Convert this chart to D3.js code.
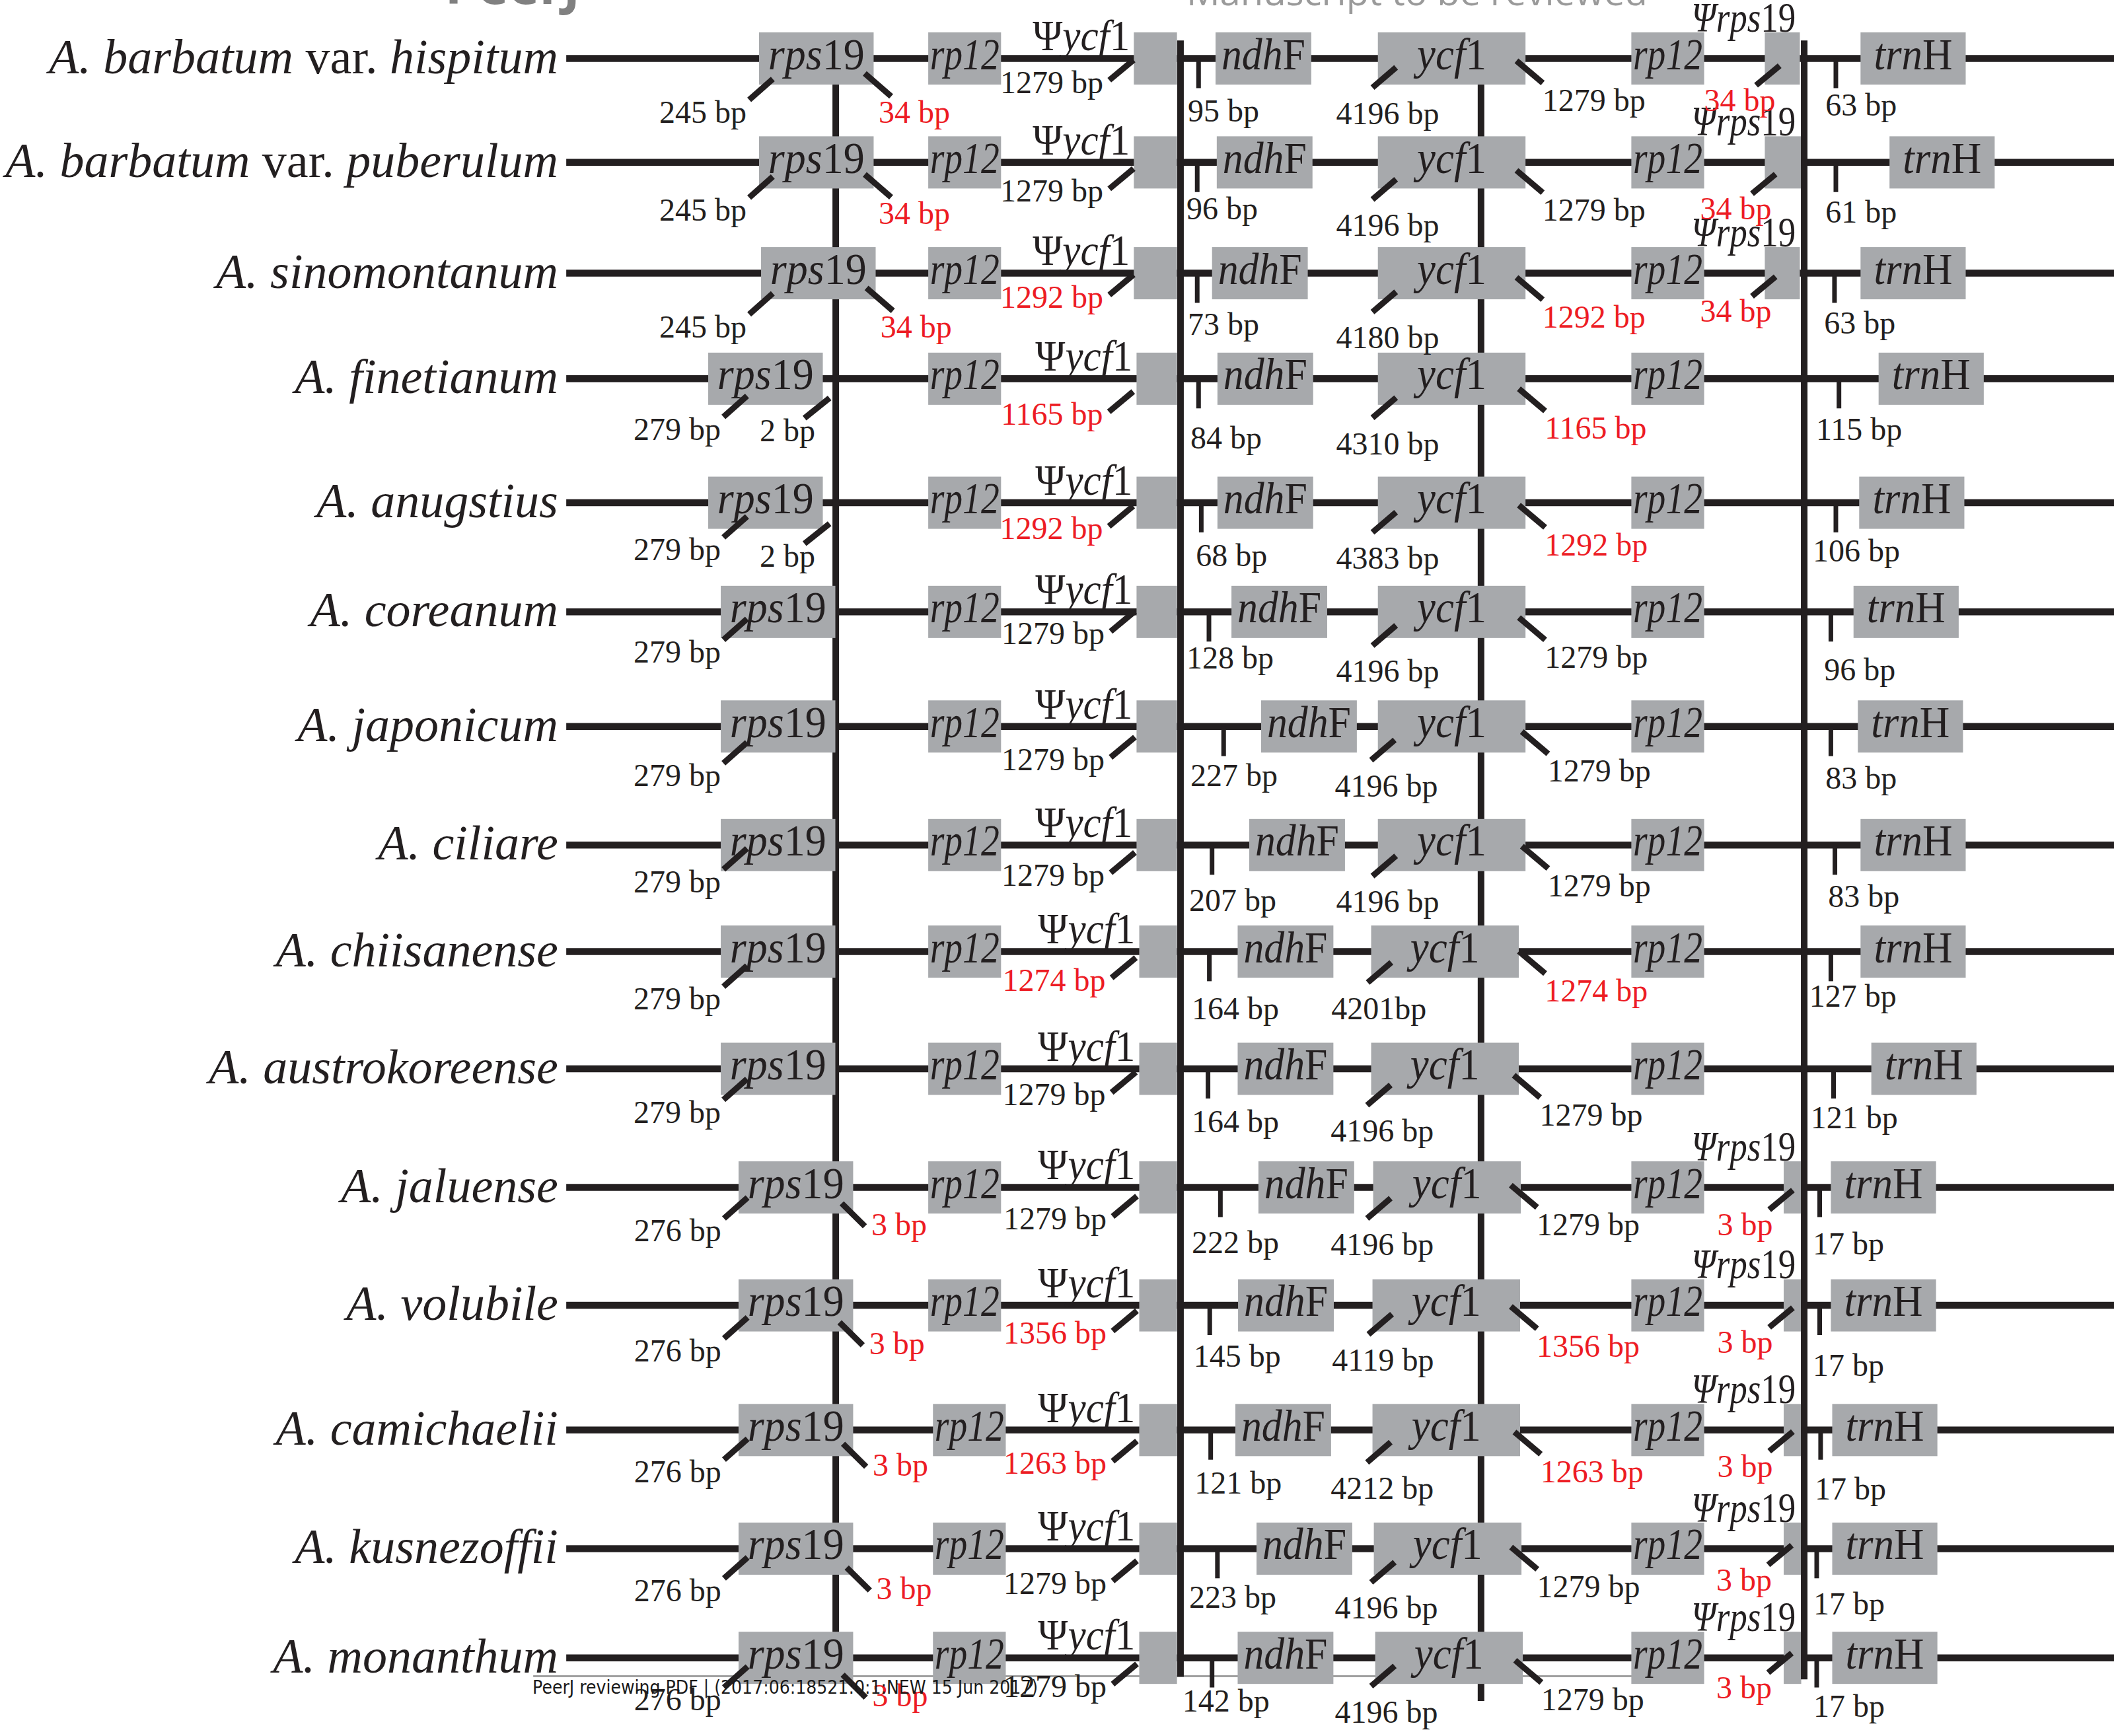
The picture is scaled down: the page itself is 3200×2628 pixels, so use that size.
<!DOCTYPE html>
<html><head><meta charset="utf-8">
<script src="https://cdn.jsdelivr.net/npm/d3@7"></script>
<style>body{margin:0;background:#fff}</style>
</head><body>
<svg id="c"></svg>
<script>
// ---------------- DATA ----------------
const species = ["A. barbatum var. hispitum","A. barbatum var. puberulum","A. sinomontanum","A. finetianum","A. anugstius","A. coreanum","A. japonicum","A. ciliare","A. chiisanense","A. austrokoreense","A. jaluense","A. volubile","A. camichaelii","A. kusnezoffii","A. monanthum"];
const rps19LeftBp  = [245,245,245,279,279,279,279,279,279,279,276,276,276,276,276];
const rps19RightBp = [34,34,34,2,2,null,null,null,null,null,3,3,3,3,3];
const psiYcf1Bp    = [1279,1279,1292,1165,1292,1279,1279,1279,1274,1279,1279,1356,1263,1279,1279];
const ndhFBp       = [95,96,73,84,68,128,227,207,164,164,222,145,121,223,142];
const ycf1Bp       = [4196,4196,4180,4310,4383,4196,4196,4196,4201,4196,4196,4119,4212,4196,4196];
const ycf1IRaBp    = [1279,1279,1292,1165,1292,1279,1279,1279,1274,1279,1279,1356,1263,1279,1279];
const psiRps19Bp   = [34,34,34,null,null,null,null,null,null,null,3,3,3,3,3];
const trnHBp       = [63,61,63,115,106,96,83,83,127,121,17,17,17,17,17];
const ycf1NoSpace  = [8]; // "4201bp" is printed without a space
const standardYcf1 = 1279; // differing lengths are highlighted in red

const rowLine = [43.4,120.5,202.7,281,373,454,539,627,706,793,881,968.5,1061,1149,1230];
const rps19X  = [563,563,564.5,525.3,525.3,534.6,534.6,534.6,534.6,534.6,547.8,547.8,547.8,547.8,547.8];
const rp12LX  = [688.5,688.5,688.5,688.5,688.5,688.5,688.5,688.5,688.5,688.5,688.5,688.5,692,692,692];
const stubLX  = [841,841,841,843,843,843,843,843,845,845,845,845,845,845,845];
const ndhFX   = [901.6,902.5,899,903,903,913.4,935.4,926.6,918,918,933.4,918.3,916.3,932,918];
const ndhFTickX = [889,888,888,889,891,896.7,907.6,899,897,896,905.2,897.3,898,903,899];
const ycf1X   = [1022,1022,1022,1022,1022,1022,1022,1022,1017,1017,1018.5,1018,1018,1019,1020];
const rp12RX  = 1210;
const stubRX  = [[1309,1335],[1309,1336],[1309,1335],null,null,null,null,null,null,null,[1323,1336],[1323,1336],[1323,1336],[1323,1336],[1323,1336]];
const trnHX   = [1380,1401.5,1380,1393.4,1379,1374.8,1378,1380,1380,1388,1358,1358,1359,1359,1359];
const trnHTickX = [1361.7,1361.7,1360.7,1364,1361.7,1358,1358,1361,1358,1360,1349.7,1349.7,1350.4,1347.5,1347.5];
const boxW = {rps19:85, rp12:54, ndhF:71, ycf1:109.5, trnH:78, stubLEnd:873};

const rps19LPos = [[553.7,91.1],[553.7,163.6],[553.7,250.2],[534.6,326.3],[534.6,415.7],[534.6,491.7],[534.6,583.3],[534.6,662],[534.6,749],[534.6,833],[535,921],[535,1010],[535,1100],[535,1188],[535,1269]];
const rps19RPos = [[651.7,91.1],[651.7,166],[653,250.2],[563.5,327.3],[563.5,420.5],null,null,null,null,null,[646.3,916.3],[644.7,1004.6],[647.3,1094.7],[650,1186.5],[647,1266]];
const rps19RStyle = ['below','below','below','slash','slash',null,null,null,null,null,'beside','beside','beside','beside','beside'];
const ycfLPos  = [[818.3,69],[818.3,149.6],[818.3,228.3],[818,315],[818,400],[819.3,478],[819.3,571.4],[819.3,657],[820,735],[820,820],[820.8,912],[820.8,997],[820.8,1093.6],[820.8,1182.5],[820.8,1259]];
const ndhFPos  = [[881,90],[880,162.7],[881,248.4],[883,333],[887,420],[880,496],[883,583],[882,676],[884,756],[884,840],[884,929.5],[885.3,1014],[886,1108],[882,1193],[877,1270]];
const ycf1Pos  = [[991,92],[991,175],[991,258.5],[991,337],[991,422],[991,506],[990,591],[991,677],[987.5,756],[987,847],[987,931],[988,1017],[987,1112],[990,1201],[990,1278]];
const ycf1RPos = [[1144,82.3],[1144,163.6],[1144,243],[1145.8,325.6],[1145.8,412],[1145.8,495.4],[1148,580],[1148,665],[1145.8,743],[1142,835],[1139.8,916.5],[1139.8,1006.5],[1142.5,1099.6],[1140,1185],[1143,1269]];
const psiRPos  = [[1264,82.3],[1261,162.7],[1261,238.8],null,null,null,null,null,null,null,[1273.8,916.5],[1273.8,1003.8],[1273.8,1095.7],[1273,1180],[1273,1260]];
const trnHPos  = [[1354,85.8],[1354,165.3],[1353,247.5],[1347,326.5],[1344.6,416.7],[1353,505],[1354,585],[1356,673],[1342,747],[1343,837],[1344.6,930.6],[1344.6,1020.7],[1346,1112.6],[1345,1198],[1345,1274]];

// pointer strokes: offset of lower end from its label anchor, and vector to upper end
const diagRel = {
  rps19L:{end:[2,-17],v:[17.5,-15.5]},
  below:{end:[9.3,-19.6],v:[-19.6,-17]},
  slash:{end:[33.2,-17.1],v:[18.6,-14.9]},
  beside:{end:[-4.8,-6.5],v:[-17.2,-17]},
  ycfL:{end:[4.5,-9.5],v:[18,-15]},
  ycf1L:{end:[27,-27],v:[17.5,-15]},
  ycf1R:{end:[0.3,-20.7],v:[-19.5,-16.5]},
  psiR:{end:[38.5,-19],v:[17.5,-14.5]}
};
const vLines = [
  {x:619.9, y0:'first', y1:'last', back:true},
  {x:1098.5, y0:'first', y1:1262, back:true},
  {x:875.6, y0:30, y1:1244, back:false},
  {x:1338.2, y0:30, y1:1246, back:false}
];

// ---------------- RENDER ----------------
const W = 3200, H = 2628;
const x = d3.scaleLinear().domain([0,1568]).range([0,W]);
const y = d3.scaleLinear().domain([0,1288]).range([0,H]);
const ink = '#231f20', grey = '#a7a9ac', red = '#ed1c24';
const serif = "'Liberation Serif','Times New Roman',serif";
const boxH = 79;

const svg = d3.select('#c').attr('width',W).attr('height',H).attr('viewBox',`0 0 ${W} ${H}`);
svg.append('rect').attr('width',W).attr('height',H).attr('fill','#fff');

function rich(t, parts){ parts.forEach(([s,it])=>t.append('tspan').attr('font-style',it?'italic':'normal').text(s)); return t; }

// page header / footer of the review PDF
svg.append('text').attr('x',x(330)).attr('y',6).attr('font-family',"'Open Sans',sans-serif").attr('font-weight',700)
  .attr('font-size',80).attr('fill','#808080').attr('textLength',205).attr('lengthAdjust','spacingAndGlyphs').text('PeerJ');
svg.append('text').attr('x',x(880)).attr('y',8).attr('font-family',"'Open Sans',sans-serif")
  .attr('font-size',54).attr('fill','#9a9a9a').attr('textLength',698).attr('lengthAdjust','spacingAndGlyphs').text('Manuscript to be reviewed');
svg.append('line').attr('x1',x(395.5)).attr('x2',x(1223)).attr('y1',y(1243.6)).attr('y2',y(1243.6)).attr('stroke','#a0a0a0').attr('stroke-width',3);

const rows = species.map((name,i)=>({i,name,ly:rowLine[i]}));
const gLines = svg.append('g'), gBack = svg.append('g'), gBox = svg.append('g'), gFront = svg.append('g'), gText = svg.append('g');

// species labels
rows.forEach(r=>{
  const p = r.name.split(' var. ');
  const parts = p.length===2 ? [[p[0]+' ',true],['var. ',false],[p[1],true]] : [[r.name,true]];
  rich(gText.append('text').attr('x',x(414)).attr('y',y(r.ly)+22).attr('text-anchor','end')
    .attr('font-family',serif).attr('font-size',74).attr('fill',ink), parts);
});

// row lines
gLines.selectAll('line').data(rows).join('line')
  .attr('x1',x(420)).attr('x2',W).attr('y1',d=>y(d.ly)).attr('y2',d=>y(d.ly))
  .attr('stroke',ink).attr('stroke-width',10.5);

// vertical junction lines
vLines.forEach(v=>{
  const y0 = v.y0==='first'?rowLine[0]:v.y0, y1 = v.y1==='last'?rowLine[rowLine.length-1]:v.y1;
  (v.back?gBack:gFront).append('line').attr('x1',x(v.x)).attr('x2',x(v.x)).attr('y1',y(y0)).attr('y2',y(y1))
    .attr('stroke',ink).attr('stroke-width',10);
});

// boxes
const boxes = [];
const P = {
  rps19:[['rps',1],['19',0]], rp12:[['rp12',1]], ndhF:[['ndh',1],['F',0]], ycf1:[['ycf',1],['1',0]], trnH:[['trn',1],['H',0]]
};
const TL = {rps19:146, rp12:105, ndhF:127, ycf1:105, trnH:119};
rows.forEach(r=>{
  const i=r.i;
  boxes.push({r,x0:rps19X[i],x1:rps19X[i]+boxW.rps19,g:'rps19'});
  boxes.push({r,x0:rp12LX[i],x1:rp12LX[i]+boxW.rp12,g:'rp12'});
  boxes.push({r,x0:stubLX[i],x1:boxW.stubLEnd});
  boxes.push({r,x0:ndhFX[i],x1:ndhFX[i]+boxW.ndhF,g:'ndhF'});
  boxes.push({r,x0:ycf1X[i],x1:ycf1X[i]+boxW.ycf1,g:'ycf1'});
  boxes.push({r,x0:rp12RX,x1:rp12RX+boxW.rp12,g:'rp12'});
  if(stubRX[i]) boxes.push({r,x0:stubRX[i][0],x1:stubRX[i][1]});
  boxes.push({r,x0:trnHX[i],x1:trnHX[i]+boxW.trnH,g:'trnH'});
});
gBox.selectAll('rect').data(boxes).join('rect')
  .attr('x',d=>x(d.x0)).attr('width',d=>x(d.x1)-x(d.x0))
  .attr('y',d=>y(d.r.ly)-boxH/2).attr('height',boxH).attr('fill',grey);
boxes.filter(b=>b.g).forEach(b=>{
  rich(gText.append('text').attr('x',(x(b.x0)+x(b.x1))/2).attr('y',y(b.r.ly)+16).attr('text-anchor','middle')
    .attr('font-family',serif).attr('font-size',67).attr('fill',ink)
    .attr('textLength',TL[b.g]).attr('lengthAdjust','spacingAndGlyphs'), P[b.g]);
});

// pseudo-gene labels above the stubs
rows.forEach(r=>{
  const i=r.i;
  rich(gText.append('text').attr('x',x(stubLX[i]-3)).attr('y',y(r.ly-6)).attr('text-anchor','end')
    .attr('font-family',serif).attr('font-size',66).attr('fill',ink)
    .attr('textLength',147).attr('lengthAdjust','spacingAndGlyphs'), [['Ψ',0],['ycf',1],['1',0]]);
  if(psiRps19Bp[i]!=null)
    rich(gText.append('text').attr('x',x(1332)).attr('y',y(r.ly-20)).attr('text-anchor','end')
      .attr('font-family',serif).attr('font-size',64).attr('fill',ink)
      .attr('textLength',158).attr('lengthAdjust','spacingAndGlyphs'), [['Ψ',1],['rps',1],['19',0]]);
});

// ticks
rows.forEach(r=>{
  [ndhFTickX[r.i], trnHTickX[r.i]].forEach(tx=>{
    gFront.append('line').attr('x1',x(tx)).attr('x2',x(tx)).attr('y1',y(r.ly)).attr('y2',y(r.ly+22))
      .attr('stroke',ink).attr('stroke-width',7);
  });
});

// bp labels + pointer strokes
const labels = [], diags = [];
function addLab(val,pos,anchor,isRed,rel,noSpace){
  if(val==null||!pos) return;
  labels.push({t: noSpace? `${val}bp` : `${val} bp`, x:pos[0], y:pos[1], anchor, red:isRed});
  if(rel){
    const R = diagRel[rel];
    const ex = pos[0]+R.end[0], ey = pos[1]+R.end[1];
    diags.push({x1:ex,y1:ey,x2:ex+R.v[0],y2:ey+R.v[1]});
  }
}
rows.forEach(r=>{
  const i=r.i;
  addLab(rps19LeftBp[i], rps19LPos[i], 'end', false, 'rps19L');
  addLab(rps19RightBp[i], rps19RPos[i], 'start', psiRps19Bp[i]!=null, rps19RStyle[i]);
  addLab(psiYcf1Bp[i], ycfLPos[i], 'end', psiYcf1Bp[i]!==standardYcf1, 'ycfL');
  addLab(ndhFBp[i], ndhFPos[i], 'start', false, null);
  addLab(ycf1Bp[i], ycf1Pos[i], 'start', false, 'ycf1L', ycf1NoSpace.includes(i));
  addLab(ycf1IRaBp[i], ycf1RPos[i], 'start', ycf1IRaBp[i]!==standardYcf1, 'ycf1R');
  addLab(psiRps19Bp[i], psiRPos[i], 'start', true, 'psiR');
  addLab(trnHBp[i], trnHPos[i], 'start', false, null);
});
gFront.selectAll('line.d').data(diags).join('line').attr('class','d')
  .attr('x1',d=>x(d.x1)).attr('y1',d=>y(d.y1)).attr('x2',d=>x(d.x2)).attr('y2',d=>y(d.y2))
  .attr('stroke',ink).attr('stroke-width',9);
gText.selectAll('text.bp').data(labels).join('text').attr('class','bp')
  .attr('x',d=>x(d.x)).attr('y',d=>y(d.y)).attr('text-anchor',d=>d.anchor)
  .attr('font-family',serif).attr('font-size',48).attr('fill',d=>d.red?red:ink).text(d=>d.t);

// footer text (drawn last)
svg.append('text').attr('x',x(395)).attr('y',y(1256.4)).attr('font-family',"'DejaVu Sans',sans-serif")
  .attr('font-size',28).attr('fill','#1a1a1a').attr('textLength',765).attr('lengthAdjust','spacingAndGlyphs')
  .text('PeerJ reviewing PDF | (2017:06:18521:0:1:NEW 15 Jun 2017)');
</script>
</body></html>
